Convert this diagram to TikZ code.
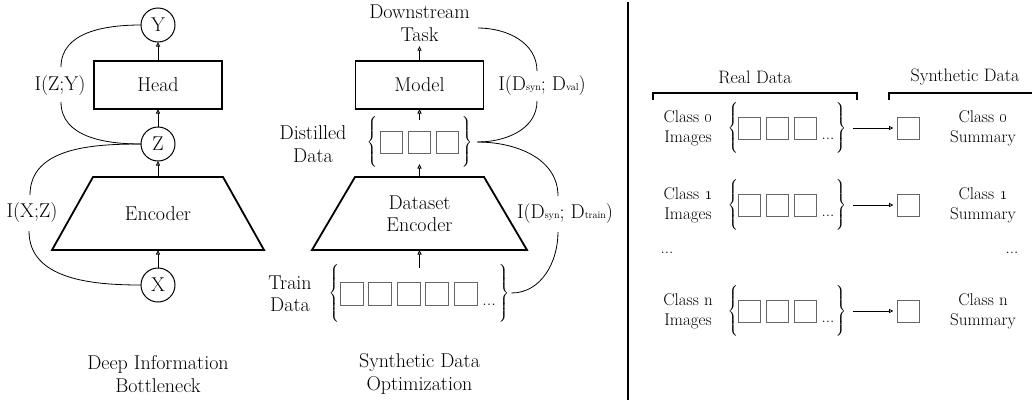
\documentclass[tikz,border=0pt]{standalone}
\usepackage{exscale}
\usetikzlibrary{arrows.meta}
\newcommand\mylarge{\fontsize{20}{22.5}\selectfont}
\newcommand\mymid{\fontsize{18}{20}\selectfont}
\newcommand\mysmall{\fontsize{17}{20}\selectfont}
\newcommand\bracefont{\fontsize{13}{13}\selectfont}
\newcommand\mysub[1]{{\fontsize{10}{10}\selectfont #1}}
\newcommand\mybrl[1]{$\delimiterfactor=1000\delimitershortfall=0pt\left\{\vcenter{\hbox{\rule{0pt}{#1}}}\right.\kern-\nulldelimiterspace$}
\newcommand\mybrr[1]{$\delimiterfactor=1000\delimitershortfall=0pt\kern-\nulldelimiterspace\left.\vcenter{\hbox{\rule{0pt}{#1}}}\right\}$}
\begin{document}
\begin{tikzpicture}[x=1pt,y=-1pt,
  every node/.style={inner sep=0pt, outer sep=0pt},
  lbl/.style={align=center, font=\mylarge},
  slbl/.style={align=center, font=\mysmall},
  box/.style={draw, line width=1.8pt, minimum width=128pt, minimum height=48pt, font=\mylarge},
  circ/.style={draw, circle, line width=1pt, minimum size=34pt, font=\mylarge},
  trap/.style={draw, line width=1.8pt, line join=miter},
  arr/.style={line width=0.8pt, -{Triangle[open, length=4.5pt, width=4pt]}},
  curve/.style={line width=0.8pt},
  img/.style={draw=black!60, line width=1pt, minimum size=22pt},
  grp/.style={minimum width=#1, minimum height=44pt},
  brc/.style={font=\bracefont},
  brk/.style={line width=1.5pt}
]
\useasboundingbox (0,0) rectangle (1032,402);

% ---------- left panel ----------
\node[circ] (Y) at (158,25) {Y};
\node[box] (head) at (158,85) {Head};
\node[circ] (Z) at (158,144) {Z};
\node[lbl, minimum width=130pt, minimum height=73pt] (enc) at (158,213.5) {Encoder};
\draw[trap] ([xshift=-41pt]enc.south west) -- (enc.north west) -- (enc.north east) -- ([xshift=41pt]enc.south east) -- cycle;
\node[circ] (X) at (158,285) {X};
\draw[arr] (X) -- (enc.south);
\draw[arr] (enc.north) -- (Z);
\draw[arr] (Z) -- (head);
\draw[arr] (head) -- (Y);

\node[lbl] (lzy) at (60,86) {I(Z;Y)};
\coordinate (zyA) at (61,67);
\coordinate (zyB) at (61,102);
\draw[curve] (Y.west) to[out=180,in=90] (zyA);
\draw[curve] (zyB) to[out=-90,in=180] (Z.west);

\node[lbl] (lxz) at (32,213) {I(X;Z)};
\coordinate (xzA) at (30,195);
\coordinate (xzB) at (29,231);
\draw[curve] (Z.west) to[out=180,in=90] (xzA);
\draw[curve] (xzB) to[out=-90,in=180] (X.west);

\node[lbl] (cap1) at (158,374) {Deep Information\\Bottleneck};

% ---------- middle panel ----------
\node[lbl] (task) at (419.5,23) {Downstream\\Task};
\node[box] (model) at (419.5,85) {Model};
\draw[arr] (model.north) -- ([yshift=-5pt]task.south);

\node[grp=100pt] (dist) at (419.5,142) {};
\node[img] (d1) at (391.5,142) {};
\node[img] (d2) at (419.5,142) {};
\node[img] (d3) at (447.5,142) {};
\node[brc] (dlb) at (372,142) {\mybrl{47pt}};
\node[brc] (drb) at (467,142) {\mybrr{47pt}};
\node[lbl] (dlab) at (313,144) {Distilled\\Data};
\draw[arr] (dist.north) -- (model.south);

\node[lbl, minimum width=129pt, minimum height=73pt] (denc) at (419.5,213.5) {Dataset\\Encoder};
\draw[trap] ([xshift=-43pt]denc.south west) -- (denc.north west) -- (denc.north east) -- ([xshift=43pt]denc.south east) -- cycle;
\draw[arr] (denc.north) -- (dist.south);

\node[grp=175pt, minimum height=50pt] (tgrp) at (419.5,293) {};
\foreach \k in {0,...,4} \node[img, minimum size=23pt] (t\k) at ({351.5+28.5*\k},294) {};
\node[font=\mymid, anchor=base] (tdots) at (489,305) {...};
\node[brc] (tlb) at (334,293) {\mybrl{51pt}};
\node[brc] (trb) at (504,293) {\mybrr{51pt}};
\node[lbl] (tlab) at (290,294) {Train\\Data};
\draw[arr] (tgrp.north) -- (denc.south);

\node[lbl] (lval) at (542,86) {I(D\mysub{syn}; D\mysub{val})};
\coordinate (tvA) at (478,28);
\coordinate (vA) at (537,71);
\coordinate (vB) at (537,101);
\draw[curve] (tvA) to[out=0,in=90] (vA);
\draw[curve] (vB) to[out=-90,in=0] ([xshift=5pt]drb.east);

\node[lbl] (ltrain) at (565,214) {I(D\mysub{syn}; D\mysub{train})};
\coordinate (trA) at (558,196);
\coordinate (trB) at (558,232);
\draw[curve] ([xshift=5pt]drb.east) to[out=0,in=90] (trA);
\draw[curve] (trB) to[out=-90,in=0] ([xshift=2pt]trb.east);

\node[lbl] (cap2) at (419.5,374) {Synthetic Data\\Optimization};

% ---------- right panel ----------
\coordinate (divT) at (628,2);
\coordinate (divB) at (628,400);
\draw[line width=2pt] (divT) -- (divB);

\node[font=\mymid] (real) at (755,77) {Real Data};
\draw[brk] (653,100) -- (653,93) -- (857,93) -- (857,100);
\node[font=\mymid] (synth) at (965,77) {Synthetic Data};
\draw[brk] (889,100) -- (889,93) -- (1034,93);

\foreach \r/\n/\cl in {128/0/{\oldstylenums{0}}, 205/1/{\oldstylenums{1}}, 311/n/n} {
  \node[slbl] (ci\n) at (688,\r) {Class \cl\\Images};
  \node[grp=110pt] (g\n) at (787,\r) {};
  \node[brc] (lb\n) at (733,\r) {\mybrl{44pt}};
  \node[brc] (rb\n) at (841,\r) {\mybrr{44pt}};
  \foreach \k in {0,1,2} \node[img] (q\n\k) at ({749.5+27.75*\k},\r) {};
  \node[font=\mysmall, anchor=base] (dots\n) at (828,{\r+11}) {...};
  \node[img] (s\n) at (908.5,\r) {};
  \draw[arr, shorten <=7pt, shorten >=4pt] (rb\n.east) -- (s\n.west);
  \node[slbl] (cs\n) at (983,\r) {Class \cl\\Summary};
}
\node[font=\mysmall] (ldots) at (667,253) {...};
\node[font=\mysmall] (rdots) at (1012,253) {...};
\end{tikzpicture}
\end{document}
